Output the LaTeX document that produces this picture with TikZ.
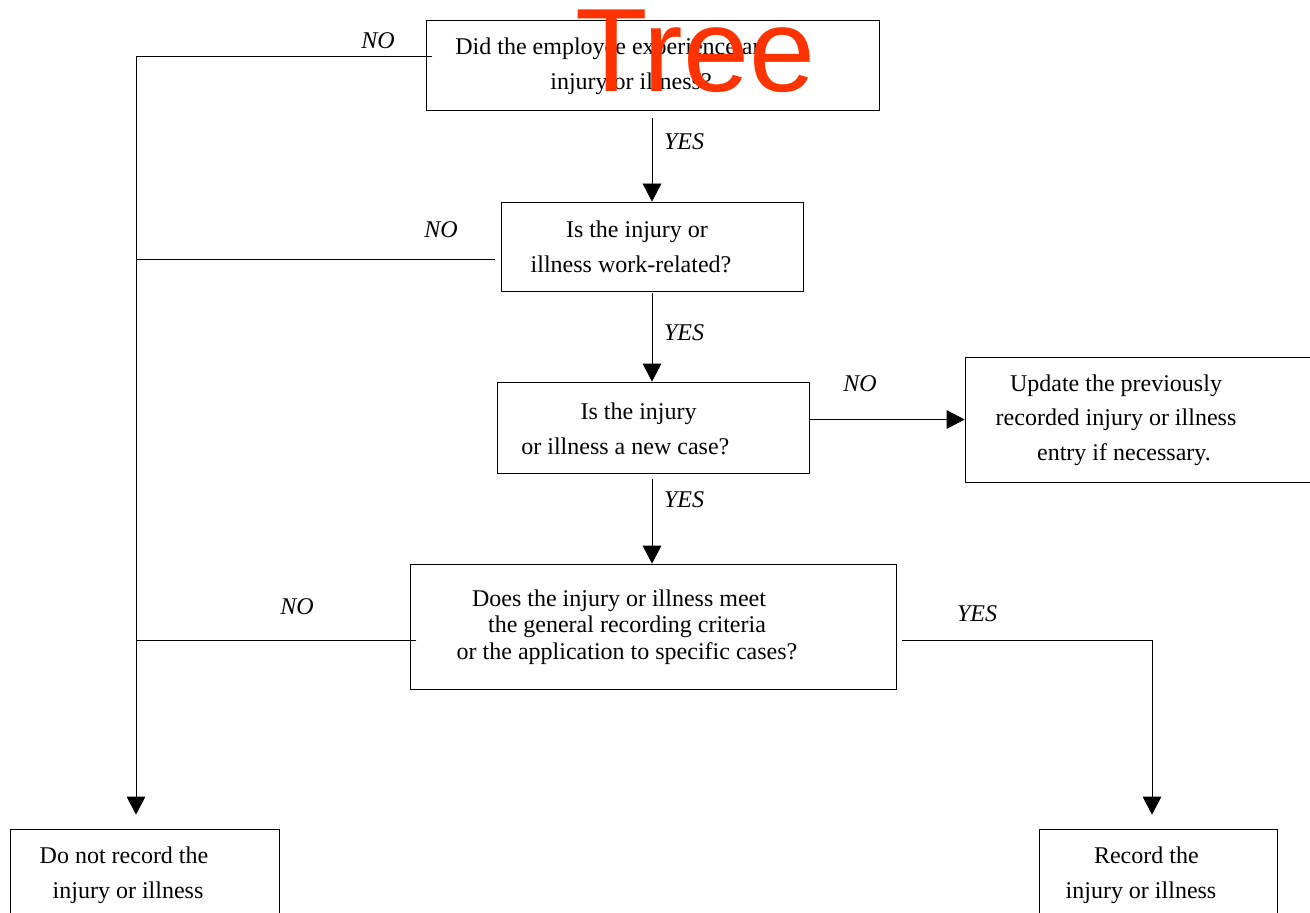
\documentclass[tikz,border=0pt]{standalone}
\usepackage{fontspec}
\setmainfont{Liberation Serif}
\newfontfamily\treefont{Liberation Sans}
\usetikzlibrary{positioning,arrows.meta,fit}
\definecolor{treered}{RGB}{255,51,0}

\begin{document}
\begin{tikzpicture}[x=0.75pt, y=-0.75pt, line width=0.6pt, >={Triangle[length=13.5pt,width=14pt]},
  box/.style={draw,inner sep=0pt,line width=0.6pt},
  txt/.style={align=center,inner sep=0pt,font=\fontsize{18}{26}\selectfont},
  lbl/.style={inner sep=0pt,font=\fontsize{18}{22}\selectfont\itshape}]
              \clip (0,0) rectangle (1310,913);
              % boxes
              \node[box, fit={(426,20) (879,110)}] (q1) {};
              \node[box, fit={(501,202) (803,291)}] (q2) {};
              \node[box, fit={(497,382) (809,473)}] (q3) {};
              \node[box, fit={(965,357) (1330,482)}] (upd) {};
              \node[box, fit={(410,564) (896,689)}] (q5) {};
              \node[box, fit={(10,829) (279,960)}] (norec) {};
              \node[box, fit={(1039,829) (1277,960)}] (rec) {};

              \node[txt] (q1t) at (610,66) {Did the employee experience an\\\hspace*{31.5pt}injury or illness?};
              \node[txt] (q2t) at (631,247) {\hspace*{9pt}Is the injury or\\illness work-related?};
              \node[txt] (q3t) at (632,429) {\hspace*{10pt}Is the injury\\or illness a new case?\hspace*{10pt}};
              \node[txt] (updt) at (1116,420) {Update the previously\\recorded injury or illness\\\hspace*{12pt}entry if necessary.};
              \node[txt,font=\fontsize{18}{20}\selectfont] (q5t) at (627,627) {Does the injury or illness meet\hspace*{12pt}\\the general recording criteria\hspace*{12pt}\\or the application to specific cases?};
              \node[txt] (norect) at (124,875) {Do not record the\\\hspace*{6pt}injury or illness};
              \node[txt] (rect) at (1141,875) {\hspace*{8pt}Record the\\injury or illness};

              % the NO spine on the left
              \coordinate (s1) at (136,56);
              \coordinate (s2) at (136,259);
              \coordinate (s3) at (136,640);
              \coordinate (s4) at (1152,640);
              \draw[shorten <=-5pt] (s1 -| q1.west) -- (s1);
              \draw[shorten <=4.5pt] (s2 -| q2.west) -- (s2);
              \draw[shorten <=-5pt] (s3 -| q5.west) -- (s3);
              \draw[->,shorten >=10.5pt] (s1) -- (s1 |- norec.north);

              % YES path
              \draw[->,shorten <=6pt] (q2.north |- q1.south) -- (q2.north);
              \draw[->,shorten <=1.5pt] (q2.south) -- (q2.south |- q3.north);
              \draw[->,shorten <=4.5pt] (q2.south |- q3.south) -- (q2.south |- q5.north);
              \draw[->] (q3.east |- upd.west) -- (upd.west);
              \draw[->,shorten <=4.5pt,shorten >=10.5pt] (s3 -| q5.east) -- (s4) -- (s4 |- rec.north);

              \node[lbl] (no1) at (378,41) {NO};
              \node[lbl] (yes1) at (684,142) {YES};
              \node[lbl] (no2) at (441,230) {NO};
              \node[lbl] (yes2) at (684,333) {YES};
              \node[lbl] (no3) at (860,384) {NO};
              \node[lbl] (yes3) at (684,500) {YES};
              \node[lbl] (no5) at (297,607) {NO};
              \node[lbl] (yes5) at (977,614) {YES};

              \node[text=treered, inner sep=0pt, anchor=base west, font=\treefont\fontsize{89}{92}\selectfont] (tree) at (575,92) {Tree};
            \end{tikzpicture}
\end{document}
